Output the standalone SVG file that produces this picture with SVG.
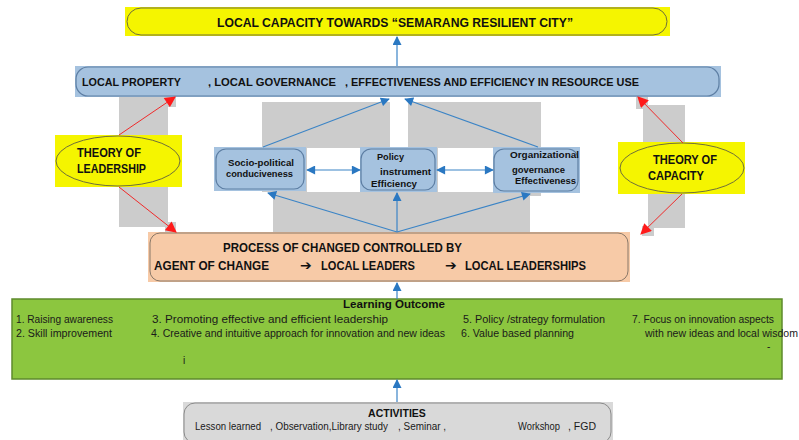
<svg xmlns="http://www.w3.org/2000/svg" width="799" height="440" viewBox="0 0 799 440">
<defs>
<style>
text{font-family:"Liberation Sans","DejaVu Sans",sans-serif;fill:#111;}
.b{font-weight:bold;}
.arw{font-family:"DejaVu Sans",sans-serif;font-weight:bold;font-size:14px;}
.gray{fill:#cccccc;}
.blueln{stroke:#3b84c6;stroke-width:1.2;fill:none;}
.redln{stroke:#f02a2a;stroke-width:1;fill:none;}
.sbox{fill:#a5c2df;}
.sout{fill:none;stroke:#5d7ea3;stroke-width:1.2;}
.item{font-size:10px;fill:#1a1a1a;}
</style>
<marker id="ab" viewBox="0 0 10 10" refX="9" refY="5" markerWidth="10" markerHeight="9" markerUnits="userSpaceOnUse" orient="auto-start-reverse">
<path d="M0,0 L10,5 L0,10 z" fill="#2a78c2"/>
</marker>
<marker id="ar" viewBox="0 0 10 10" refX="9" refY="5" markerWidth="13" markerHeight="11" markerUnits="userSpaceOnUse" orient="auto">
<path d="M0,0 L10,5 L0,10 z" fill="#ff1a1a"/>
</marker>
</defs>
<rect width="799" height="440" fill="#ffffff"/>

<g id="gray-bg">
<rect class="gray" x="119" y="97" width="49" height="38"/>
<rect class="gray" x="166" y="97" width="10" height="10"/>
<rect class="gray" x="119" y="187" width="49" height="40"/>
<rect class="gray" x="165" y="222" width="11" height="10"/>
<rect class="gray" x="643" y="105" width="42" height="37"/>
<rect class="gray" x="636" y="97" width="12" height="12"/>
<rect class="gray" x="648" y="194" width="37" height="34"/>
<rect class="gray" x="642" y="226" width="12" height="10"/>
<path class="gray" d="M262,102 H390 V148 H307 V192 H262 Z"/>
<path class="gray" d="M408,102 H541 V196 H493 V148 H408 Z"/>
<rect class="gray" x="273" y="192" width="257" height="42"/>
<rect class="gray" x="360" y="148" width="78" height="46"/>
</g>

<g id="top-goal">
<rect x="125" y="7" width="545" height="29" fill="#f5f500"/>
<rect x="127" y="8" width="540" height="27" rx="14" fill="none" stroke="#6f6f3a" stroke-width="1"/>
<text class="b" x="217" y="27" font-size="13" textLength="356" lengthAdjust="spacingAndGlyphs">LOCAL CAPACITY TOWARDS “SEMARANG RESILIENT CITY”</text>
</g>

<g id="outcomes-band">
<rect x="75" y="66" width="646" height="31" fill="#a5c2df"/>
<rect x="76" y="67" width="643" height="29" rx="12" fill="none" stroke="#5d7ea3" stroke-width="1.2"/>
<text class="b" x="82" y="86" font-size="11.5" textLength="99" lengthAdjust="spacingAndGlyphs">LOCAL PROPERTY</text>
<text class="b" x="208" y="86" font-size="11.5" textLength="128" lengthAdjust="spacingAndGlyphs">, LOCAL GOVERNANCE</text>
<text class="b" x="345" y="86" font-size="11.5" textLength="294" lengthAdjust="spacingAndGlyphs">, EFFECTIVENESS AND EFFICIENCY IN RESOURCE USE</text>
</g>

<g id="theory-leadership">
<rect x="55" y="135" width="127" height="52" fill="#f5f500"/>
<ellipse cx="118" cy="161" rx="62" ry="25" fill="none" stroke="#6f6f3a" stroke-width="1"/>
<text class="b" x="77" y="157" font-size="12" textLength="64" lengthAdjust="spacingAndGlyphs">THEORY OF</text>
<text class="b" x="77" y="173" font-size="12" textLength="69" lengthAdjust="spacingAndGlyphs">LEADERSHIP</text>
</g>

<g id="theory-capacity">
<rect x="618" y="142" width="127" height="52" fill="#f5f500"/>
<ellipse cx="682" cy="168" rx="62" ry="25" fill="none" stroke="#6f6f3a" stroke-width="1"/>
<text class="b" x="653" y="164" font-size="12" textLength="64" lengthAdjust="spacingAndGlyphs">THEORY OF</text>
<text class="b" x="648" y="180" font-size="12" textLength="56" lengthAdjust="spacingAndGlyphs">CAPACITY</text>
</g>

<g id="socio-political">
<rect class="sbox" x="214" y="147" width="92" height="44"/>
<rect class="sout" x="216" y="149" width="88" height="40" rx="10"/>
<text class="b" x="228" y="166" font-size="9" textLength="66" lengthAdjust="spacingAndGlyphs">Socio-political</text>
<text class="b" x="226" y="177" font-size="9" textLength="67" lengthAdjust="spacingAndGlyphs">conduciveness</text>
</g>

<g id="policy-instrument">
<rect class="sbox" x="360" y="147" width="77" height="45"/>
<rect class="sout" x="361" y="149" width="74" height="41" rx="10"/>
<text class="b" x="377" y="160" font-size="9.5" textLength="27" lengthAdjust="spacingAndGlyphs">Policy</text>
<text class="b" x="380" y="175" font-size="9.5" textLength="51" lengthAdjust="spacingAndGlyphs">instrument</text>
<text class="b" x="371" y="187" font-size="9.5" textLength="46" lengthAdjust="spacingAndGlyphs">Efficiency</text>
</g>

<g id="organizational-governance">
<rect class="sbox" x="493" y="147" width="87" height="46"/>
<rect class="sout" x="494" y="149" width="84" height="42" rx="10"/>
<text class="b" x="510" y="158" font-size="9.5" textLength="69" lengthAdjust="spacingAndGlyphs">Organizational</text>
<text class="b" x="512" y="173" font-size="9" textLength="53" lengthAdjust="spacingAndGlyphs">governance</text>
<text class="b" x="515" y="184" font-size="9" textLength="61" lengthAdjust="spacingAndGlyphs">Effectiveness</text>
</g>

<g id="process">
<rect x="148" y="232" width="482" height="50" fill="#f7caa7"/>
<rect x="150" y="233" width="478" height="48" rx="10" fill="none" stroke="#8a7868" stroke-width="1"/>
<text class="b" x="223" y="252" font-size="12" textLength="239" lengthAdjust="spacingAndGlyphs">PROCESS OF CHANGED CONTROLLED BY</text>
<text class="b" x="154" y="270" font-size="12" textLength="115" lengthAdjust="spacingAndGlyphs">AGENT OF CHANGE</text>
<text class="arw" x="300" y="270">➔</text>
<text class="b" x="321" y="270" font-size="12" textLength="94" lengthAdjust="spacingAndGlyphs">LOCAL LEADERS</text>
<text class="arw" x="445" y="270">➔</text>
<text class="b" x="465" y="270" font-size="12" textLength="121" lengthAdjust="spacingAndGlyphs">LOCAL LEADERSHIPS</text>
</g>

<g id="learning-outcome">
<rect x="12" y="299" width="770" height="80" fill="#8cc63f" stroke="#5e8a2c" stroke-width="1.5"/>
<text class="b" x="343" y="308" font-size="10" textLength="102" lengthAdjust="spacingAndGlyphs">Learning Outcome</text>
<text class="item" x="16" y="323" textLength="97" lengthAdjust="spacingAndGlyphs">1. Raising awareness</text>
<text class="item" x="16" y="337" textLength="96" lengthAdjust="spacingAndGlyphs">2. Skill improvement</text>
<text class="item" x="152" y="323" textLength="236" lengthAdjust="spacingAndGlyphs">3. Promoting effective and efficient leadership</text>
<text class="item" x="151" y="337" textLength="294" lengthAdjust="spacingAndGlyphs">4. Creative and intuitive approach for innovation and new ideas</text>
<text class="item" x="183" y="364">i</text>
<text class="item" x="463" y="323" textLength="142" lengthAdjust="spacingAndGlyphs">5. Policy /strategy formulation</text>
<text class="item" x="461" y="337" textLength="113" lengthAdjust="spacingAndGlyphs">6. Value based planning</text>
<text class="item" x="632" y="323" textLength="142" lengthAdjust="spacingAndGlyphs">7. Focus on innovation aspects</text>
<text class="item" x="645" y="337" textLength="153" lengthAdjust="spacingAndGlyphs">with new ideas and local wisdom</text>
<text class="item" x="767" y="350" font-size="8">-</text>
</g>

<g id="activities">
<rect x="183" y="402" width="430" height="38" fill="#d9d9d9"/>
<rect x="184" y="403" width="427" height="40" rx="11" fill="none" stroke="#8a8a8a" stroke-width="1"/>
<text class="b" x="397" y="417" font-size="10.5" text-anchor="middle">ACTIVITIES</text>
<text class="item" x="195" y="430" textLength="66" lengthAdjust="spacingAndGlyphs">Lesson learned</text>
<text class="item" x="270" y="430" textLength="118" lengthAdjust="spacingAndGlyphs">, Observation,Library study</text>
<text class="item" x="398" y="430" textLength="48" lengthAdjust="spacingAndGlyphs">, Seminar ,</text>
<text class="item" x="518" y="430" textLength="42" lengthAdjust="spacingAndGlyphs">Workshop</text>
<text class="item" x="568" y="430" textLength="28" lengthAdjust="spacingAndGlyphs">, FGD</text>
</g>

<g id="connectors">
<line class="blueln" x1="397" y1="66" x2="397" y2="37" marker-end="url(#ab)"/>
<line class="blueln" x1="263" y1="147" x2="389" y2="99" marker-end="url(#ab)"/>
<line class="blueln" x1="538" y1="147" x2="405" y2="99" marker-end="url(#ab)"/>
<line class="blueln" x1="307" y1="170" x2="360" y2="170" marker-start="url(#ab)" marker-end="url(#ab)"/>
<line class="blueln" x1="437" y1="170" x2="493" y2="170" marker-start="url(#ab)" marker-end="url(#ab)"/>
<line class="blueln" x1="397" y1="232" x2="268" y2="193" marker-end="url(#ab)"/>
<line class="blueln" x1="397" y1="232" x2="397" y2="193" marker-end="url(#ab)"/>
<line class="blueln" x1="397" y1="232" x2="530" y2="194" marker-end="url(#ab)"/>
<line class="blueln" x1="397" y1="299" x2="397" y2="283" marker-end="url(#ab)"/>
<line class="blueln" x1="397" y1="402" x2="397" y2="380" marker-end="url(#ab)"/>
<line class="redln" x1="119" y1="135" x2="175" y2="97" marker-end="url(#ar)"/>
<line class="redln" x1="119" y1="187" x2="176" y2="232" marker-end="url(#ar)"/>
<line class="redln" x1="683" y1="143" x2="638" y2="97" marker-end="url(#ar)"/>
<line class="redln" x1="682" y1="194" x2="641" y2="234" marker-end="url(#ar)"/>
</g>
</svg>
